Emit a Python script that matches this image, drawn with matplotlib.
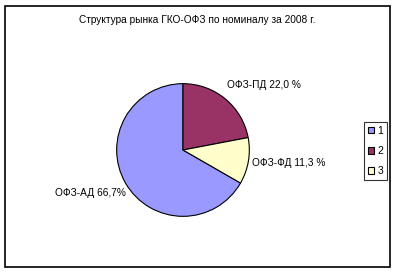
import matplotlib.pyplot as plt
from matplotlib.patches import Rectangle

plt.rcParams["font.family"] = ["Liberation Sans", "DejaVu Sans"]

title = "Структура рынка ГКО-ОФЗ по номиналу за 2008 г."
shares = [66.7, 22.0, 11.3]
names = ["ОФЗ-АД 66,7%", "ОФЗ-ПД 22,0 %", "ОФЗ-ФД 11,3 %"]
legend_labels = ["1", "2", "3"]
colors = ["#9999FF", "#993366", "#FFFFCC"]

W, H = 396, 273
fig = plt.figure(figsize=(W / 100, H / 100), dpi=100)

# outer chart frame
fig.patches.append(Rectangle((5 / W, 6 / H), 385 / W, 261 / H, transform=fig.transFigure,
                             fill=False, edgecolor="black", linewidth=1.2))

fig.text(197 / W, 1 - 20 / H, title, ha="center", va="center", fontsize=7.3)

cx, cy, r = 183, 150, 67
ax = fig.add_axes([(cx - r) / W, (H - cy - r) / H, 2 * r / W, 2 * r / H])
start = 90 + shares[0] * 3.6
wedges, _ = ax.pie(shares, colors=colors, startangle=start, counterclock=False,
                   wedgeprops=dict(edgecolor="black", linewidth=0.8))
ax.set_xlim(-1.01, 1.01)
ax.set_ylim(-1.01, 1.01)
ax.set_aspect("equal")
ax.axis("off")

fig.text(55 / W, 1 - 193 / H, names[0], ha="left", va="center", fontsize=7.3)
fig.text(227 / W, 1 - 85 / H, names[1], ha="left", va="center", fontsize=7.3)
fig.text(252 / W, 1 - 163 / H, names[2], ha="left", va="center", fontsize=7.3)

leg = fig.legend(wedges, legend_labels, loc="center", bbox_to_anchor=(375.5 / W, 1 - 151 / H),
                 fontsize=7.5, frameon=True, fancybox=False, handlelength=0.6, handleheight=0.6,
                 handletextpad=0.3, labelspacing=1.0, borderpad=0.35, borderaxespad=0)
leg.get_frame().set_edgecolor("black")
leg.get_frame().set_linewidth(0.8)

fig.savefig("out.png", dpi=100)
